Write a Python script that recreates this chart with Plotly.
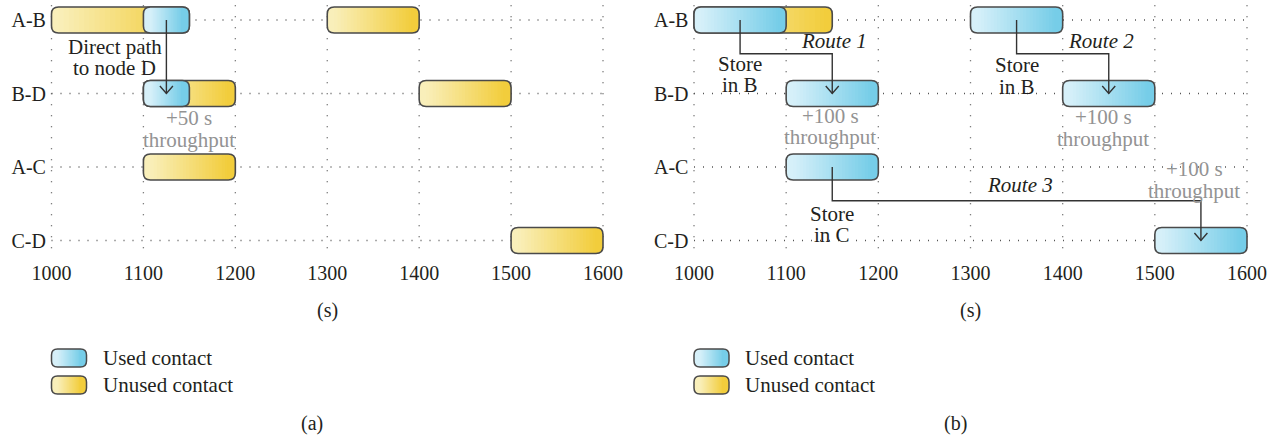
import plotly.graph_objects as go

# ---------------------------------------------------------------- data
links = ["A-B", "B-D", "A-C", "C-D"]
x_ticks = [1000, 1100, 1200, 1300, 1400, 1500, 1600]

# contact windows: (link, start, end) in seconds
a_unused = [("A-B", 1000, 1150), ("B-D", 1100, 1200), ("A-C", 1100, 1200),
            ("A-B", 1300, 1400), ("B-D", 1400, 1500), ("C-D", 1500, 1600)]
a_used = [("A-B", 1100, 1150), ("B-D", 1100, 1150)]

b_unused = [("A-B", 1000, 1150)]
b_used = [("A-B", 1000, 1100), ("B-D", 1100, 1200), ("A-C", 1100, 1200),
          ("A-B", 1300, 1400), ("B-D", 1400, 1500), ("C-D", 1500, 1600)]

# forwarding paths: (from link, time, to link, time)
a_routes = [("A-B", 1125, "B-D", 1125)]
b_routes = [("A-B", 1050, "B-D", 1150),
            ("A-B", 1350, "B-D", 1450),
            ("A-C", 1150, "C-D", 1550)]

# text labels: (time, row position, lines, style)
a_labels = [(1069, 0.51, ["Direct path", "to node D"], "dark"),
            (1150, 1.48, ["+50 s", "throughput"], "gray")]
b_labels = [(1050, 0.74, ["Store", "in B"], "dark"),
            (1152, 0.29, ["Route 1"], "italic"),
            (1148, 1.45, ["+100 s", "throughput"], "gray"),
            (1350, 0.76, ["Store", "in B"], "dark"),
            (1442, 0.29, ["Route 2"], "italic"),
            (1444, 1.47, ["+100 s", "throughput"], "gray"),
            (1150, 2.78, ["Store", "in C"], "dark"),
            (1354, 2.24, ["Route 3"], "italic"),
            (1543, 2.18, ["+100 s", "throughput"], "gray")]

legend_labels = ["Used contact", "Unused contact"]

# ---------------------------------------------------------------- style
W, H = 1277, 438
FONT = "Liberation Serif"
INK = "#231f20"
GRAY = "#939393"
EDGE = "#4a4a4a"
BLUE = ("#d6f0f9", "#76cde8")
YELLOW = ("#f9efba", "#f2cd3c")

X_RANGE = [995, 1605]
Y_RANGE = [3.25, -0.25]
row_px0, row_step = 20.0, 73.5          # pixel centre of first row, spacing
panels = {"a": dict(px0=51.5, px1=603.0, xref="x", yref="y", sfx=""),
          "b": dict(px0=694.0, px1=1247.0, xref="x2", yref="y2", sfx="2")}

BAR_H_PX, RAD_PX = 26.0, 7.0
LINE_GAP = 21.5

row_of = {name: i for i, name in enumerate(links)}


def hexrgb(c):
    c = c.lstrip("#")
    return [int(c[i:i + 2], 16) for i in (0, 2, 4)]


def mix(c0, c1, t):
    a, b = hexrgb(c0), hexrgb(c1)
    return "rgb({},{},{})".format(*[round(a[i] + (b[i] - a[i]) * t) for i in range(3)])


def rr_path(x0, x1, y0, y1, rx, ry, left=True, right=True):
    p = [f"M{x0 + rx if left else x0},{y0}"]
    if right:
        p += [f"L{x1 - rx},{y0}", f"Q{x1},{y0} {x1},{y0 + ry}",
              f"L{x1},{y1 - ry}", f"Q{x1},{y1} {x1 - rx},{y1}"]
    else:
        p += [f"L{x1},{y0}", f"L{x1},{y1}"]
    if left:
        p += [f"L{x0 + rx},{y1}", f"Q{x0},{y1} {x0},{y1 - ry}",
              f"L{x0},{y0 + ry}", f"Q{x0},{y0} {x0 + rx},{y0}"]
    else:
        p += [f"L{x0},{y1}"]
    p.append("Z")
    return " ".join(p)


def gradient_bar(x0, x1, y0, y1, rx, ry, colors, xref, yref, lw=1.6):
    """Rounded bar shaded left-to-right from colors[0] to colors[1]."""
    c0, c1 = colors
    out = [dict(type="path", path=rr_path(x0, x1, y0, y1, rx, ry),
                xref=xref, yref=yref, fillcolor=c0, line=dict(width=0))]
    a, b = x0 + rx, x1 - rx
    n = 24
    for k in range(n):
        xs = a + (b - a) * k / n
        out.append(dict(type="rect", x0=xs, x1=b, y0=y0, y1=y1, xref=xref, yref=yref,
                        fillcolor=mix(c0, c1, (k + 0.5) / n), line=dict(width=0)))
    out.append(dict(type="path", path=rr_path(b - rx * 0.15, x1, y0, y1, rx, ry, left=False),
                    xref=xref, yref=yref, fillcolor=c1, line=dict(width=0)))
    out.append(dict(type="path", path=rr_path(x0, x1, y0, y1, rx, ry),
                    xref=xref, yref=yref, fillcolor="rgba(0,0,0,0)",
                    line=dict(color=EDGE, width=lw)))
    return out


shapes, annotations = [], []
fig = go.Figure()

y_lo_px = row_px0 + Y_RANGE[1] * row_step
y_hi_px = row_px0 + Y_RANGE[0] * row_step
y_domain = [1 - y_hi_px / H, 1 - y_lo_px / H]

for key, unused, used, routes, labels in (("a", a_unused, a_used, a_routes, a_labels),
                                           ("b", b_unused, b_used, b_routes, b_labels)):
    pn = panels[key]
    xr, yr = pn["xref"], pn["yref"]
    kx = (pn["px1"] - pn["px0"]) / (x_ticks[-1] - x_ticks[0])
    dom = [(pn["px0"] + (X_RANGE[0] - x_ticks[0]) * kx) / W,
           (pn["px0"] + (X_RANGE[1] - x_ticks[0]) * kx) / W]
    rx, ry = RAD_PX / kx, RAD_PX / row_step
    half = BAR_H_PX / 2 / row_step

    fig.update_layout(**{
        "xaxis" + pn["sfx"]: dict(domain=dom, range=X_RANGE, anchor="y" + pn["sfx"],
                                  tickvals=x_ticks, ticktext=[str(t) for t in x_ticks],
                                  showgrid=False, zeroline=False, showline=False, ticks="",
                                  automargin=False,
                                  tickfont=dict(family=FONT, size=20, color=INK)),
        "yaxis" + pn["sfx"]: dict(domain=y_domain, range=Y_RANGE, anchor="x" + pn["sfx"],
                                  tickvals=list(range(len(links))), ticktext=links,
                                  showgrid=False, zeroline=False, showline=False, ticks="",
                                  automargin=False,
                                  tickfont=dict(family=FONT, size=20, color=INK)),
    })
    fig.add_trace(go.Scatter(x=[x_ticks[0], x_ticks[-1]], y=[0, len(links) - 1],
                             mode="lines", line=dict(width=0), hoverinfo="skip",
                             showlegend=False, xaxis="x" + pn["sfx"], yaxis="y" + pn["sfx"]))

    # dotted grid
    for t in x_ticks:
        shapes.append(dict(type="line", x0=t, x1=t, y0=-0.2, y1=len(links) - 1 + 0.2,
                           xref=xr, yref=yr, line=dict(color="#555", width=1.3, dash="1px,10px")))
    for i in range(len(links)):
        shapes.append(dict(type="line", x0=x_ticks[0], x1=x_ticks[-1], y0=i, y1=i,
                           xref=xr, yref=yr, line=dict(color="#555", width=1.3, dash="1px,8px")))

    # contacts
    for link, s, e in unused:
        r = row_of[link]
        shapes += gradient_bar(s, e, r - half, r + half, rx, ry, YELLOW, xr, yr)
    for link, s, e in used:
        r = row_of[link]
        shapes += gradient_bar(s, e, r - half, r + half, rx, ry, BLUE, xr, yr)

    # forwarding arrows
    for la, ta, lb, tb in routes:
        ya, yb = row_of[la], row_of[lb]
        if ta == tb:
            path = f"M{ta},{ya} L{tb},{yb}"
        else:
            ym = ya + 0.46
            path = f"M{ta},{ya} L{ta},{ym} L{tb},{ym} L{tb},{yb}"
        shapes.append(dict(type="path", path=path, xref=xr, yref=yr,
                           line=dict(color="#333", width=1.4)))
        ax, ay = 6.5 / kx, 7.5 / row_step
        shapes.append(dict(type="path", path=f"M{tb - ax},{yb - ay} L{tb},{yb} L{tb + ax},{yb - ay}",
                           xref=xr, yref=yr, line=dict(color="#333", width=1.4)))

    # text labels
    for tx, ty, lines, style in labels:
        n = len(lines)
        for j, line in enumerate(lines):
            txt = f"<i>{line}</i>" if style == "italic" else line
            col = GRAY if style == "gray" else INK
            annotations.append(dict(x=tx, y=ty, xref=xr, yref=yr, text=txt, showarrow=False,
                                    xanchor="center", yanchor="middle",
                                    yshift=((n - 1) / 2 - j) * LINE_GAP,
                                    font=dict(family=FONT, size=21, color=col)))

    # axis unit
    annotations.append(dict(x=0.5, y=1 - 310 / H, xref=xr + " domain", yref="paper",
                            text="(s)", showarrow=False, yanchor="middle",
                            font=dict(family=FONT, size=20, color=INK)))

    # legend
    lx = pn["px0"]
    for j, (lab, cols) in enumerate(zip(legend_labels, (BLUE, YELLOW))):
        cy = 358 + j * 27
        x0p, x1p = lx / W, (lx + 35) / W
        y0p, y1p = 1 - (cy + 9) / H, 1 - (cy - 9) / H
        shapes += gradient_bar(x0p, x1p, y0p, y1p, 6 / W, 6 / H, cols, "paper", "paper", lw=1.5)
        annotations.append(dict(x=(lx + 49) / W, y=1 - cy / H, xref="paper", yref="paper",
                                text=lab, showarrow=False, xanchor="left", yanchor="middle",
                                font=dict(family=FONT, size=21, color=INK)))

    # panel caption
    cap_x = {"a": 312, "b": 955}[key]
    annotations.append(dict(x=cap_x / W, y=1 - 423 / H, xref="paper", yref="paper",
                            text=f"({key})", showarrow=False, xanchor="center", yanchor="middle",
                            font=dict(family=FONT, size=20, color=INK)))

fig.update_layout(width=W, height=H, margin=dict(l=0, r=0, t=0, b=0, autoexpand=False),
                  paper_bgcolor="white", plot_bgcolor="white", showlegend=False,
                  shapes=shapes, annotations=annotations)

fig.write_html("out.html")
